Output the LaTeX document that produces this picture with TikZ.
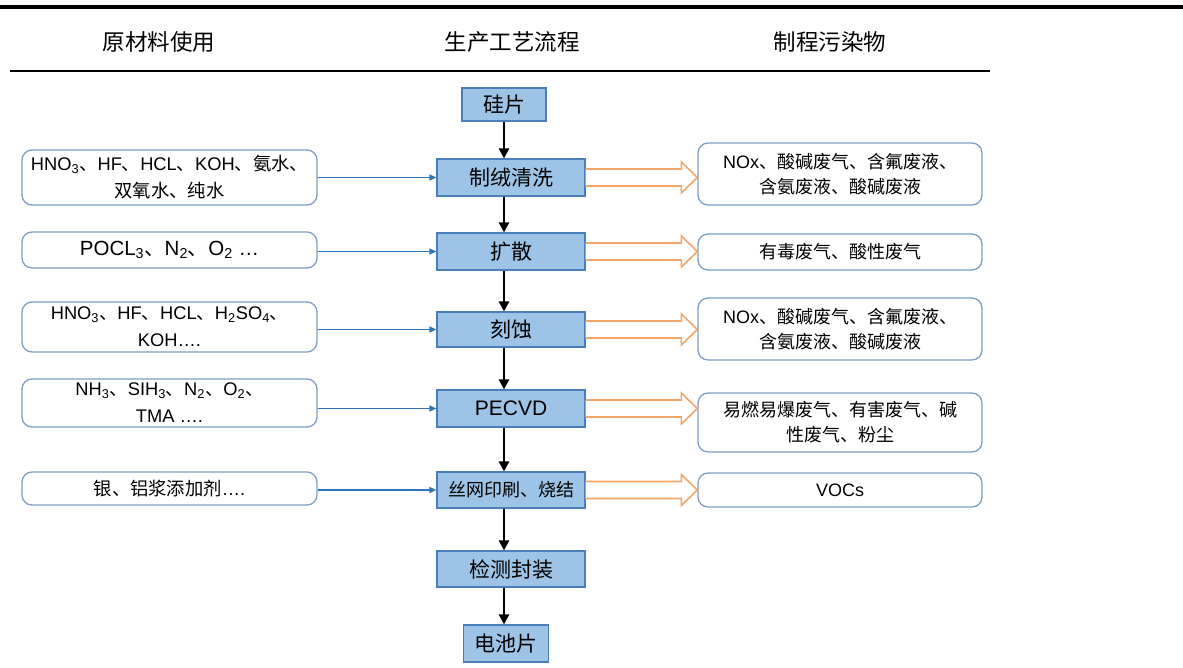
\documentclass[tikz,border=0pt]{standalone}
\usepackage{fontspec}
\setmainfont{Liberation Sans}
\newfontfamily\cjk{Noto Sans CJK SC}
\usetikzlibrary{arrows.meta,calc}
\newcommand\dun{{\cjk 、}}
\newcommand\sub[1]{\textsubscript{#1}}
\definecolor{cfill}{HTML}{9DC3E6}
\definecolor{cborder}{HTML}{4A7EBB}
\definecolor{sborder}{HTML}{7F9DC4}
\definecolor{barrow}{HTML}{2E75B6}
\definecolor{oarrow}{HTML}{F2A66A}
\tikzset{
  procbox/.style={draw=cborder, fill=cfill, line width=1.2pt, inner sep=0pt,
    minimum width=148pt, minimum height=36pt, font=\cjk\fontsize{21}{24}\selectfont},
  sidebox/.style={draw=sborder, line width=1.3pt, rounded corners=10pt, inner sep=0pt,
    align=center},
  leftbox/.style={sidebox, minimum width=295pt, font=\fontsize{18.3}{27}\selectfont},
  rightbox/.style={sidebox, minimum width=284pt, font=\fontsize{18}{25}\selectfont},
  flow/.style={line width=2.5pt, -{Triangle[length=10pt,width=10pt]}},
  feed/.style={draw=barrow, line width=1.4pt, -{Triangle[length=7pt,width=6pt]}},
  outarrow/.style={draw=oarrow, line width=1.6pt, fill=white, line join=miter},
  head/.style={font=\cjk\fontsize{22.5}{24}\selectfont}
}
\newcommand\outarr[2]{%
  \draw[outarrow] ($(#1.east)+(0,-8.5)$) -- ($(#2.west |- #1.east)+(-16,-8.5)$)
    -- ($(#2.west |- #1.east)+(-16,-15.5)$) -- (#2.west |- #1.east)
    -- ($(#2.west |- #1.east)+(-16,15.5)$) -- ($(#2.west |- #1.east)+(-16,8.5)$)
    -- ($(#1.east)+(0,8.5)$);}
\begin{document}
\begin{tikzpicture}[x=1pt,y=-1pt]
\useasboundingbox (0,0) rectangle (1183,668);
% rules
\draw[line width=4pt] (0,7) coordinate (tl) -- (1183,7) coordinate (tr);
\draw[line width=2.5pt] (10,71) coordinate (ul) -- (990,71) coordinate (ur);
% headers
\node[head] (h1) at (159,42) {原材料使用};
\node[head] (h2) at (512,42) {生产工艺流程};
\node[head] (h3) at (830,42) {制程污染物};
% process column
\node[procbox, minimum width=84pt, minimum height=33pt] (s) at (504,104.5) {硅片};
\node[procbox, minimum height=37pt] (c1) at (511,177.5) {制绒清洗};
\node[procbox, minimum height=37pt] (c2) at (511,251.5) {扩散};
\node[procbox, minimum height=35pt] (c3) at (511,329.5) {刻蚀};
\node[procbox, minimum height=37pt, font=\fontsize{21}{24}\selectfont] (c4) at (511,408.5) {PECVD};
\node[procbox, font=\cjk\fontsize{18}{20}\selectfont] (c5) at (511,490) {丝网印刷、烧结};
\node[procbox] (c6) at (511,569) {检测封装};
\node[procbox, minimum width=85pt, minimum height=37pt] (e) at (506,643.5) {电池片};
% flow arrows
\draw[flow] (s.south) -- (s.south |- c1.north);
\draw[flow] (s.south |- c1.south) -- (s.south |- c2.north);
\draw[flow] (s.south |- c2.south) -- (s.south |- c3.north);
\draw[flow] (s.south |- c3.south) -- (s.south |- c4.north);
\draw[flow] (s.south |- c4.south) -- (s.south |- c5.north);
\draw[flow] (s.south |- c5.south) -- (s.south |- c6.north);
\draw[flow] (s.south |- c6.south) -- (s.south |- e.north);
% left boxes
\node[leftbox, minimum height=55pt] (l1) at (169.5,177.5)
  {HNO\sub{3}\dun HF\dun HCL\dun KOH\dun{\cjk 氨水、}\\{\cjk 双氧水、纯水}};
\node[leftbox, minimum height=36pt, font=\fontsize{20.5}{24}\selectfont] (l2) at (169.5,250)
  {POCL\sub{3}\dun N\sub{2}\dun O\sub{2} \dots};
\node[leftbox, minimum height=50pt] (l3) at (169.5,327)
  {HNO\sub{3}\dun HF\dun HCL\dun H\sub{2}SO\sub{4}\dun\\KOH\dots.};
\node[leftbox, minimum height=48pt] (l4) at (169.5,403)
  {NH\sub{3}\dun SIH\sub{3}\dun N\sub{2}\dun O\sub{2}\dun\\TMA \dots.};
\node[leftbox, minimum height=33pt] (l5) at (169.5,488.5)
  {{\cjk 银、铝浆添加剂}\dots.};
% feed arrows
\draw[feed] (l1.east |- c1.west) -- (c1.west);
\draw[feed] (l2.east |- c2.west) -- (c2.west);
\draw[feed] (l3.east |- c3.west) -- (c3.west);
\draw[feed] (l4.east |- c4.west) -- (c4.west);
\draw[feed] (l5.east |- c5.west) -- (c5.west);
% right boxes
\node[rightbox, minimum height=62pt] (r1) at (840,174)
  {NOx{\cjk 、酸碱废气、含氟废液、}\\{\cjk 含氨废液、酸碱废液}};
\node[rightbox, minimum height=36pt, font=\cjk\fontsize{18}{25}\selectfont] (r2) at (840,252)
  {有毒废气、酸性废气};
\node[rightbox, minimum height=62pt] (r3) at (840,329)
  {NOx{\cjk 、酸碱废气、含氟废液、}\\{\cjk 含氨废液、酸碱废液}};
\node[rightbox, minimum height=59pt, font=\cjk\fontsize{18}{25}\selectfont] (r4) at (840,422.5)
  {易燃易爆废气、有害废气、碱\\性废气、粉尘};
\node[rightbox, minimum height=34pt] (r5) at (840,490) {VOCs};
% output arrows
\outarr{c1}{r1}
\outarr{c2}{r2}
\outarr{c3}{r3}
\outarr{c4}{r4}
\outarr{c5}{r5}
\end{tikzpicture}
\end{document}
